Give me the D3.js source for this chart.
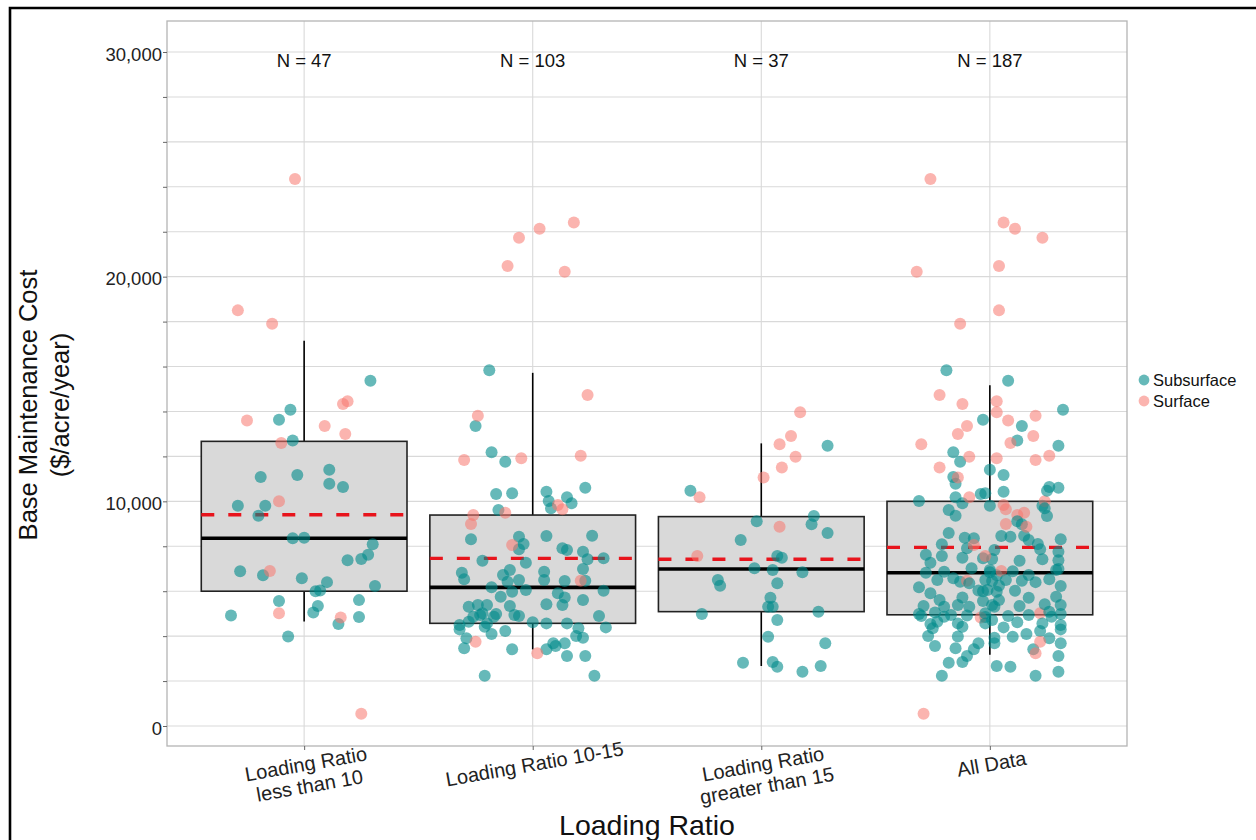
<!DOCTYPE html>
<html><head><meta charset="utf-8">
<script src="https://cdn.jsdelivr.net/npm/d3@7"></script>
<style>
html,body{margin:0;padding:0;background:#fff;}
svg{display:block;font-family:"Liberation Sans",Arial,Helvetica,sans-serif;}
</style></head><body>
<svg id="chart" width="1256" height="840"></svg>
<script>
// ---------------- DATA ----------------
const categories = ["Loading Ratio less than 10", "Loading Ratio 10-15", "Loading Ratio greater than 15", "All Data"];
const categoryLabelLines = [["Loading Ratio", "less than 10"], ["Loading Ratio 10-15"], ["Loading Ratio", "greater than 15"], ["All Data"]];
const nLabels = ["N = 47", "N = 103", "N = 37", "N = 187"];
const seriesNames = ["Subsurface", "Surface"];
const yGridValues = [0, 2000, 4000, 6000, 8000, 10000, 12000, 14000, 16000, 18000, 20000, 22000, 24000, 26000, 28000, 30000];
const yTickLabels = [0, 10000, 20000, 30000];
const xTitle = "Loading Ratio";
const yTitleLines = ["Base Maintenance Cost", "($/acre/year)"];

// box statistics
const boxWhiskerLow  = [4650, 3410, 2670, 3170];
const boxQ1          = [6000, 4570, 5090, 4950];
const boxMedian      = [8360, 6170, 6990, 6820];
const boxQ3          = [12670, 9390, 9320, 10000];
const boxWhiskerHigh = [17150, 15720, 12580, 15170];
const groupMean      = [9400, 7460, 7420, 7950];

// points: [value ($/acre/year), jitter in own group, jitter in "All Data"]  (jitter in hundredths of a category step)
const lt10Subsurface = [
 [15371,29,8],[14072,-6,32],[13627,-11,-3],[12706,-5,12],[11086,-19,-16],[11171,-3,6],[11411,11,0],
 [10779,11,-15],[10641,17,26],[9804,-29,0],[9804,-17,23],[9359,-20,-15],[8353,-5,-7],[8384,0,-11],
 [8095,30,-21],[7619,28,-28],[7432,25,1],[7378,19,30],[6885,-28,10],[6711,-18,3],[6577,-1,-16],
 [6404,10,20],[6235,31,31],[5995,5,-3],[5567,-11,-3],[5345,6,-29],[5056,4,-24],[5603,24,4],
 [4851,24,-2],[4544,15,-26],[4918,-32,-10],[3979,-7,-14],[6030,7,-5]
];
const lt10Surface = [
 [24350,-4,-26],[18500,-29,4],[17900,-14,-13],[13600,-25,8],[12600,-10,9],[13350,9,-10],[14330,17,-12],
 [14450,19,3],[13000,18,-14],[10000,-11,24],[6900,-15,5],[5020,-11,22],[4830,16,-4],[550,25,-29]
];
const r1015Subsurface = [
 [15830,-19,-19],[13351,-25,14],[12180,-18,-16],[11763,-12,-13],[10606,23,30],[10325,-16,-4],[10355,-9,-2],
 [10429,6,6],[10013,7,-31],[10177,15,-15],[9910,17,-12],[9687,8,24],[9613,-15,-18],[8309,-27,31],
 [8425,-6,9],[8456,6,5],[8470,26,15],[7864,-6,22],[7908,13,-10],[7759,22,30],[7358,-22,13],
 [7269,-3,-26],[7418,24,23],[7463,31,-3],[6822,-31,-28],[6942,-10,0],[6987,22,30],[6528,-30,26],
 [6422,-11,-13],[6498,-6,-2],[6498,5,7],[6453,14,1],[6467,23,14],[6171,-18,-31],[6053,-3,-1],
 [6021,31,11],[5977,-9,3],[5905,11,-26],[5755,-14,29],[5725,14,-12],[5607,22,-22],[5310,-28,-9],
 [5385,-24,-14],[5385,-20,1],[5340,-10,13],[5415,6,24],[5385,13,31],[4940,-23,-17],[4984,-16,-31],
 [4940,-8,17],[4895,-6,-30],[4895,29,8],[4642,-28,-23],[4613,0,12],[4568,6,-14],[4568,15,-2],
 [4420,-21,-12],[4390,32,6],[4301,-32,31],[4228,-12,22],[4346,20,-25],[4094,-18,16],[3903,-29,26],
 [3932,22,2],[4005,19,-27],[3680,9,31],[3680,14,-5],[3560,10,-24],[3458,-30,-15],[3413,-9,19],
 [3413,6,-7],[3115,15,30],[3115,23,-10],[2239,-21,-21],[2239,27,20],[4495,-32,31],[5016,-22,-2],
 [4865,-17,-20],[8100,-4,21],[6867,5,-20],[4568,-20,23],[4865,-26,27],[6720,-13,17],[7833,15,2]
];
const r1015Surface = [
 [22416,18,6],[22132,3,11],[21732,-6,23],[20472,-11,4],[20219,14,-32],[14731,24,-22],[13810,-24,20],
 [11838,-30,20],[11913,-5,3],[12030,21,26],[9835,11,6],[9643,13,7],[9390,-26,12],[8990,-27,7],
 [9493,-12,15],[8055,-9,-7],[6467,21,-10],[3752,-25,22],[3235,2,20]
];
const gt15Subsurface = [
 [12476,29,30],[10474,-31,25],[9110,-2,12],[9346,23,25],[8976,22,14],[8589,29,-18],[8278,-9,17],
 [7566,7,-21],[7492,9,-12],[7018,-3,-8],[6943,5,29],[6840,18,0],[6498,-19,-23],[6245,-18,4],
 [6350,7,-9],[5711,4,17],[5310,3,-20],[5310,5,2],[4984,-26,31],[5088,25,26],[4717,7,1],
 [3976,3,10],[3680,28,2],[2818,-8,-18],[2848,5,-12],[2640,7,9],[2670,26,3],[2417,18,30]
];
const gt15Surface = [
 [13961,17,3],[12906,13,19],[12536,8,-30],[11986,15,-9],[11511,9,-22],[11066,1,-14],[10177,-27,-9],
 [8870,8,16],[7566,-28,-2]
];

// ---------------- BUILD ----------------
const groupSeries = [
  [lt10Subsurface, lt10Surface],
  [r1015Subsurface, r1015Surface],
  [gt15Subsurface, gt15Surface]
];
const points = [];
groupSeries.forEach((pair, gi) => {
  pair.forEach((arr, si) => {
    arr.forEach(p => {
      points.push({cat: categories[gi], series: seriesNames[si], value: p[0], jit: p[1]});
      points.push({cat: categories[3], series: seriesNames[si], value: p[0], jit: p[2]});
    });
  });
});
const colors = {Subsurface: "#008B8B", Surface: "#F8766D"};
const opac = {Subsurface: 0.6, Surface: 0.55};

const svg = d3.select("#chart");
const panel = {l: 167, r: 1127, t: 21, b: 746};
const x = d3.scalePoint().domain(categories).range([panel.l, panel.r]).padding(0.6);
const y = d3.scaleLinear().domain([-890, 31380]).range([panel.b, panel.t]);
const step = x.step();
const boxW = step * 0.9;

// outer frame (left and top)
svg.append("path").attr("d", `M10,840 L10,8 L1256,8`).attr("fill", "none")
  .attr("stroke", "#000").attr("stroke-width", 2.6);

// panel background
svg.append("rect").attr("x", panel.l).attr("y", panel.t).attr("width", panel.r - panel.l)
  .attr("height", panel.b - panel.t).attr("fill", "#fff");

// gridlines
const grid = svg.append("g");
grid.selectAll("line.h").data(yGridValues).join("line").attr("class", "h")
  .attr("x1", panel.l).attr("x2", panel.r).attr("y1", d => y(d)).attr("y2", d => y(d))
  .attr("stroke", "#d9d9d9").attr("stroke-width", 1.1);
grid.selectAll("line.v").data(categories).join("line").attr("class", "v")
  .attr("x1", d => x(d)).attr("x2", d => x(d)).attr("y1", panel.t).attr("y2", panel.b)
  .attr("stroke", "#d9d9d9").attr("stroke-width", 1.1);

// boxes
const boxes = svg.append("g");
categories.forEach((c, i) => {
  const cx = x(c);
  boxes.append("line").attr("x1", cx).attr("x2", cx).attr("y1", y(boxQ3[i])).attr("y2", y(boxWhiskerHigh[i]))
    .attr("stroke", "#000").attr("stroke-width", 1.6);
  boxes.append("line").attr("x1", cx).attr("x2", cx).attr("y1", y(boxQ1[i])).attr("y2", y(boxWhiskerLow[i]))
    .attr("stroke", "#000").attr("stroke-width", 1.6);
  boxes.append("rect").attr("x", cx - boxW / 2).attr("y", y(boxQ3[i])).attr("width", boxW)
    .attr("height", y(boxQ1[i]) - y(boxQ3[i])).attr("fill", "#d9d9d9").attr("stroke", "#222").attr("stroke-width", 1.6);
  boxes.append("line").attr("x1", cx - boxW / 2).attr("x2", cx + boxW / 2).attr("y1", y(boxMedian[i])).attr("y2", y(boxMedian[i]))
    .attr("stroke", "#000").attr("stroke-width", 3.6);
  boxes.append("line").attr("x1", cx - boxW / 2).attr("x2", cx + boxW / 2).attr("y1", y(groupMean[i])).attr("y2", y(groupMean[i]))
    .attr("stroke", "#e8141c").attr("stroke-width", 3.4).attr("stroke-dasharray", "13,14");
});

// points
svg.append("g").selectAll("circle").data(points).join("circle")
  .attr("cx", d => x(d.cat) + d.jit / 100 * step)
  .attr("cy", d => y(d.value))
  .attr("r", 6)
  .attr("fill", d => colors[d.series])
  .attr("fill-opacity", d => opac[d.series]);

// panel border
svg.append("rect").attr("x", panel.l).attr("y", panel.t).attr("width", panel.r - panel.l)
  .attr("height", panel.b - panel.t).attr("fill", "none").attr("stroke", "#b4b4b4").attr("stroke-width", 1.3);

// y axis
const yAxis = d3.axisLeft(y).tickValues(yGridValues).tickSize(4).tickPadding(1)
  .tickFormat(d => yTickLabels.includes(d) ? d3.format(",")(d) : "");
const gy = svg.append("g").attr("transform", `translate(${panel.l},0)`).call(yAxis);
gy.select(".domain").remove();
gy.selectAll(".tick line").attr("stroke", "#666");
gy.selectAll(".tick text").attr("fill", "#222").attr("font-size", 18.5).attr("dy", "0.45em")
  .attr("font-family", '"Liberation Sans",Arial,sans-serif');

// x axis ticks
const xAxis = d3.axisBottom(x).tickSize(4).tickFormat("");
const gx = svg.append("g").attr("transform", `translate(0,${panel.b})`).call(xAxis);
gx.select(".domain").remove();
gx.selectAll(".tick line").attr("stroke", "#666");

// x tick labels (rotated)
categories.forEach((c, i) => {
  const g = svg.append("g").attr("transform", `translate(${x(c)},${panel.b + 8}) rotate(-10)`);
  const t = g.append("text").attr("text-anchor", "middle").attr("font-size", 20).attr("fill", "#222");
  categoryLabelLines[i].forEach((ln, k) => {
    t.append("tspan").attr("x", 0).attr("y", 17 + k * 22).text(ln);
  });
});

// N labels
svg.append("g").selectAll("text").data(categories).join("text")
  .attr("x", d => x(d)).attr("y", y(29600)).attr("dy", "0.35em")
  .attr("text-anchor", "middle").attr("font-size", 18.5).attr("fill", "#111")
  .text((d, i) => nLabels[i]);

// axis titles
svg.append("text").attr("x", (panel.l + panel.r) / 2).attr("y", 835).attr("text-anchor", "middle")
  .attr("font-size", 28.5).attr("fill", "#111").text(xTitle);
const yt = svg.append("g").attr("transform", `translate(0,405) rotate(-90)`);
yTitleLines.forEach((ln, k) => {
  yt.append("text").attr("x", 0).attr("y", 37 + k * 32).attr("text-anchor", "middle")
    .attr("font-size", 25.5).attr("fill", "#111").text(ln);
});

// legend
const lg = svg.append("g").attr("transform", "translate(1144,380)");
seriesNames.forEach((s, k) => {
  lg.append("circle").attr("cx", 0).attr("cy", k * 21).attr("r", 5.4)
    .attr("fill", colors[s]).attr("fill-opacity", opac[s]);
  lg.append("text").attr("x", 9).attr("y", k * 21).attr("dy", "0.36em")
    .attr("font-size", 16.5).attr("fill", "#111").text(s);
});
</script>
</body></html>
